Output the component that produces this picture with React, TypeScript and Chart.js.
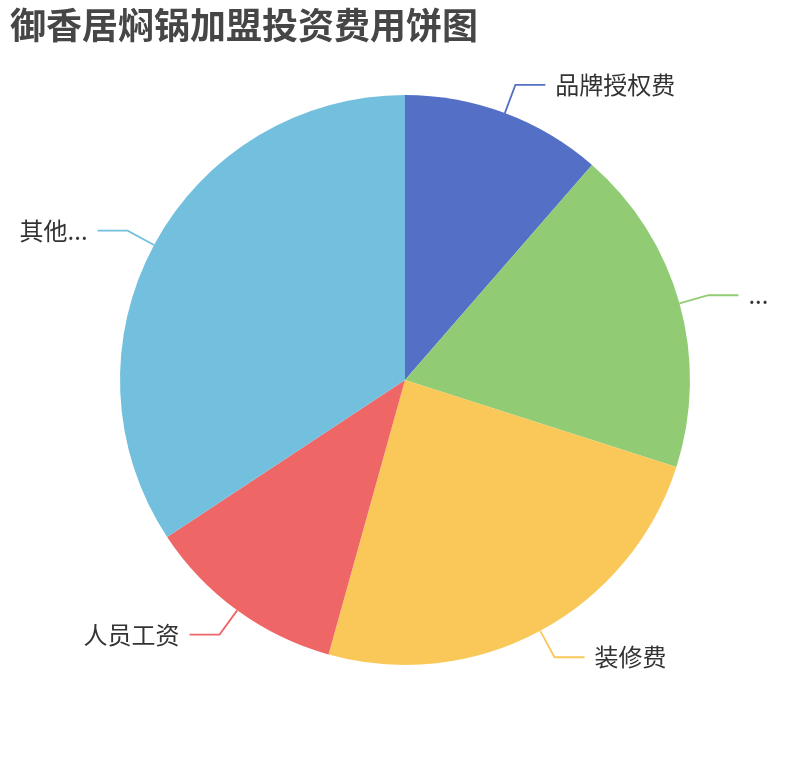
import React, { useEffect, useRef } from "react";
import { Chart, registerables } from "chart.js";

Chart.register(...registerables);

const TITLE = "御香居焖锅加盟投资费用饼图";
const categories = ["品牌授权费", "设备采购费", "装修费", "人员工资", "其他费用"];
const values = [11.4, 18.55, 24.4, 11.4, 34.3];
const colors = ["#5470c6", "#91cc75", "#fac858", "#ee6666", "#73c0de"];

const LABEL_FONT = '24px "Noto Sans CJK SC", "Noto Sans", sans-serif';
const TITLE_FONT = 'bold 36px "Noto Sans CJK SC", "Noto Sans", sans-serif';
const LINE1 = 30;
const LINE2 = 30;
const TEXT_GAP = 10;
const LEFT_EDGE = 15;
const RIGHT_EDGE = 30;

function fitText(ctx: CanvasRenderingContext2D, text: string, maxWidth: number): string {
  if (ctx.measureText(text).width <= maxWidth) return text;
  const ell = "...";
  for (let n = text.length - 1; n >= 0; n--) {
    const t = text.slice(0, n) + ell;
    if (ctx.measureText(t).width <= maxWidth) return t;
  }
  return ell;
}

const pieLabelPlugin = {
  id: "pieLabels",
  afterDatasetsDraw(chart: any) {
    const ctx: CanvasRenderingContext2D = chart.ctx;
    const meta = chart.getDatasetMeta(0);
    const W = chart.width;
    ctx.save();
    ctx.font = LABEL_FONT;
    ctx.textBaseline = "middle";
    meta.data.forEach((arc: any, i: number) => {
      const { x, y, startAngle, endAngle, outerRadius } = arc.getProps(
        ["x", "y", "startAngle", "endAngle", "outerRadius"],
        true
      );
      const mid = (startAngle + endAngle) / 2;
      const c = Math.cos(mid);
      const s = Math.sin(mid);
      const x0 = x + c * outerRadius;
      const y0 = y + s * outerRadius;
      const x1 = x + c * (outerRadius + LINE1);
      const y1 = y + s * (outerRadius + LINE1);
      const right = c >= 0;
      const x2 = x1 + (right ? LINE2 : -LINE2);
      ctx.strokeStyle = colors[i];
      ctx.lineWidth = 1.8;
      ctx.beginPath();
      ctx.moveTo(x0, y0);
      ctx.lineTo(x1, y1);
      ctx.lineTo(x2, y1);
      ctx.stroke();
      const tx = x2 + (right ? TEXT_GAP : -TEXT_GAP);
      const avail = right ? W - tx - RIGHT_EDGE : tx - LEFT_EDGE;
      const label = fitText(ctx, categories[i], avail);
      ctx.fillStyle = "#333333";
      ctx.textAlign = right ? "left" : "right";
      ctx.fillText(label, tx, y1);
    });
    ctx.restore();
  },
  afterDraw(chart: any) {
    const ctx: CanvasRenderingContext2D = chart.ctx;
    ctx.save();
    ctx.font = TITLE_FONT;
    ctx.fillStyle = "#464646";
    ctx.textAlign = "left";
    ctx.textBaseline = "middle";
    ctx.fillText(TITLE, 10, 25);
    ctx.restore();
  },
};

export default function App() {
  const canvasRef = useRef<HTMLCanvasElement | null>(null);

  useEffect(() => {
    if (!canvasRef.current) return;
    const chart = new Chart(canvasRef.current, {
      type: "pie",
      data: {
        labels: categories,
        datasets: [
          {
            data: values,
            backgroundColor: colors,
            borderWidth: 0,
            hoverOffset: 0,
            offset: 0,
          },
        ],
      },
      options: {
        animation: false,
        responsive: true,
        maintainAspectRatio: false,
        layout: { padding: { top: 95, bottom: 95, left: 120, right: 120 } },
        plugins: {
          legend: { display: false },
          tooltip: { enabled: false },
          title: { display: false },
        },
      },
      plugins: [pieLabelPlugin],
    });
    return () => chart.destroy();
  }, []);

  return (
    <div
      style={{
        position: "absolute",
        left: 0,
        top: 0,
        width: 810,
        height: 760,
        background: "#ffffff",
      }}
    >
      <canvas ref={canvasRef} />
    </div>
  );
}
